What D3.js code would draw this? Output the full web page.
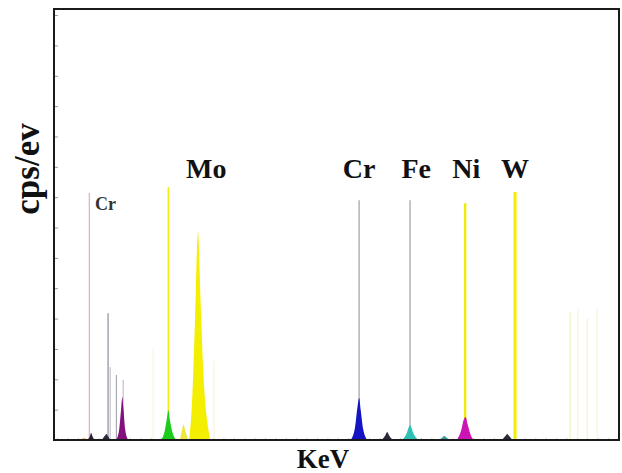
<!DOCTYPE html>
<html>
<head>
<meta charset="utf-8">
<script src="https://cdn.jsdelivr.net/npm/d3@7"></script>
<style>
  body { margin: 0; background: #fff; }
  svg { display: block; }
</style>
</head>
<body>
<div id="chart"></div>
<script>
"use strict";

// thin line markers (keV position, counts at top)
var markerNames = ["C", "Cr L", "Cr L2", "Fe L", "Ni L", "Si", "Cr K", "Fe K", "Ni K", "W L",
  "W Lb1", "W Lb2", "W Lb3", "W Lb4", "Mo fa", "Mo fb"];
var markerKeV = [0.22, 0.58, 0.62, 0.74, 0.87, 1.74, 5.41, 6.39, 7.45, 8.41,
  9.47, 9.62, 9.80, 9.99, 1.45, 2.62];
var markerCounts = [8.14, 4.18, 2.4, 2.14, 1.98, 8.33, 7.9, 7.9, 7.8, 8.17,
  4.2, 4.3, 4.0, 4.3, 3.0, 2.6];

// filled peaks, profile points [keV, counts]
var peakNames = ["O", "C b", "Cr Lb", "Ni L", "Si K", "Mo b", "Mo L", "Cr K", "Cr Kb", "Fe K", "Fe Kb", "Ni K", "Ni Kb"];
var peakProfiles = [
  [[0.06, 0], [0.12, 0.08], [0.18, 0]],
  [[0.19, 0], [0.23, 0.12], [0.255, 0.24], [0.28, 0.12], [0.32, 0]],
  [[0.46, 0], [0.51, 0.12], [0.55, 0.2], [0.58, 0.12], [0.62, 0]],
  [[0.73, 0], [0.79, 0.3], [0.83, 1.0], [0.855, 1.42], [0.875, 1.05], [0.91, 0.35], [0.97, 0]],
  [[1.60, 0], [1.67, 0.3], [1.72, 0.8], [1.74, 0.99], [1.77, 0.65], [1.82, 0.25], [1.89, 0]],
  [[1.96, 0], [2.0, 0.3], [2.03, 0.5], [2.07, 0.3], [2.12, 0]],
  [[2.14, 0], [2.20, 1.4], [2.25, 3.8], [2.31, 6.85], [2.36, 4.6], [2.42, 2.0], [2.49, 0.6], [2.55, 0]],
  [[5.25, 0], [5.33, 0.4], [5.38, 1.1], [5.41, 1.38], [5.44, 1.0], [5.49, 0.35], [5.57, 0]],
  [[5.84, 0], [5.91, 0.14], [5.95, 0.26], [5.99, 0.14], [6.06, 0]],
  [[6.24, 0], [6.32, 0.2], [6.39, 0.49], [6.46, 0.2], [6.55, 0]],
  [[6.95, 0], [7.01, 0.08], [7.05, 0.13], [7.09, 0.08], [7.15, 0]],
  [[7.29, 0], [7.37, 0.3], [7.43, 0.7], [7.46, 0.76], [7.5, 0.5], [7.55, 0.2], [7.61, 0]],
  [[8.16, 0], [8.22, 0.12], [8.26, 0.2], [8.30, 0.12], [8.36, 0]]
];

// element labels
var labelNames = ["Cr", "Mo", "Cr", "Fe", "Ni", "W"];
var labelKeV = [0.33, 2.47, 5.41, 6.51, 7.47, 8.41];

var xDomain = [-0.46, 10.41],
  yDomain = [0, 14.2];

var width = 622,
  height = 473,
  margin = { top: 9, right: 3, bottom: 33, left: 54 };

var markerStyle = {
  "C": ["#e9a8bc", 1.2, 1],
  "Cr L": ["#8d8d9a", 1.2, 1],
  "Cr L2": ["#b8b8c0", 1, 1],
  "Fe L": ["#9a9aa4", 1, 1],
  "Ni L": ["#c9a8c4", 1, 1],
  "Si": ["#f2ee10", 1.6, 1],
  "Cr K": ["#a0a0a0", 1.2, 1],
  "Fe K": ["#a0a0a0", 1.2, 1],
  "Ni K": ["#eeea10", 2.4, 1],
  "W L": ["#f2ee00", 3, 1],
  "W Lb1": ["#f4f0b0", 1.5, 0.7],
  "W Lb2": ["#f6f2c0", 1.5, 0.6],
  "W Lb3": ["#f4f0b0", 1.5, 0.6],
  "W Lb4": ["#f6f2c0", 1.5, 0.6],
  "Mo fa": ["#f8f5cc", 1.5, 0.6],
  "Mo fb": ["#f8f5cc", 1.5, 0.6]
};

var peakColor = d3.scaleOrdinal()
  .domain(peakNames)
  .range(["#f5c878", "#2a2030", "#2a2a40", "#84107e", "#1ccc1c", "#eee640", "#f4ee00",
    "#1414c4", "#2a2a3a", "#2ec2b4", "#3a9a9a", "#cc14b4", "#2a2a3a"]);

var svg = d3.select("#chart").append("svg")
  .attr("width", width)
  .attr("height", height);

var x = d3.scaleLinear().domain(xDomain).range([margin.left, width - margin.right]),
  y = d3.scaleLinear().domain(yDomain).range([height - margin.bottom, margin.top]);

// axis ticks (no labels)
svg.append("g")
  .attr("transform", "translate(" + margin.left + ",0)")
  .call(d3.axisLeft(y).ticks(14).tickSize(-4).tickFormat(""))
  .call((g) => g.select(".domain").remove())
  .selectAll("line")
  .attr("stroke", "#999");

svg.append("g")
  .attr("transform", "translate(0," + (height - margin.bottom) + ")")
  .call(d3.axisBottom(x).ticks(40).tickSize(-2).tickFormat(""))
  .call((g) => g.select(".domain").remove())
  .selectAll("line")
  .attr("stroke", "#ccc");

// marker lines
svg.append("g")
  .selectAll("line")
  .data(markerNames.map((name, i) => ({ name: name, keV: markerKeV[i], counts: markerCounts[i] })))
  .join("line")
  .attr("x1", (d) => x(d.keV))
  .attr("x2", (d) => x(d.keV))
  .attr("y1", y(0))
  .attr("y2", (d) => y(d.counts))
  .attr("stroke", (d) => markerStyle[d.name][0])
  .attr("stroke-width", (d) => markerStyle[d.name][1])
  .attr("opacity", (d) => markerStyle[d.name][2]);

// peaks
var area = d3.area()
  .x((d) => x(d[0]))
  .y0(y(0))
  .y1((d) => y(d[1]))
  .curve(d3.curveMonotoneX);

svg.append("g")
  .selectAll("path")
  .data(peakNames.map((name, i) => ({ name: name, values: peakProfiles[i] })))
  .join("path")
  .attr("d", (d) => area(d.values))
  .attr("fill", (d) => peakColor(d.name));

// labels
svg.append("g")
  .selectAll("text")
  .data(labelNames.map((name, i) => ({ name: name, keV: labelKeV[i], small: i === 0 })))
  .join("text")
  .attr("x", (d) => x(d.keV))
  .attr("y", (d) => (d.small ? 210 : 178))
  .attr("text-anchor", (d) => (d.small ? "start" : "middle"))
  .attr("font-family", "Liberation Serif, serif")
  .attr("font-weight", "bold")
  .attr("font-size", (d) => (d.small ? 18 : 28))
  .attr("fill", (d) => (d.small ? "#333" : "#111"))
  .text((d) => d.name);

// frame
svg.append("rect")
  .attr("x", margin.left)
  .attr("y", margin.top)
  .attr("width", width - margin.left - margin.right)
  .attr("height", height - margin.top - margin.bottom)
  .attr("fill", "none")
  .attr("stroke", "#1a1a1a")
  .attr("stroke-width", 2);

// axis titles
svg.append("text")
  .attr("transform", "translate(39,169) rotate(-90)")
  .attr("text-anchor", "middle")
  .attr("font-family", "Liberation Serif, serif")
  .attr("font-weight", "bold")
  .attr("font-size", 35)
  .attr("fill", "#111")
  .text("cps/ev");

svg.append("text")
  .attr("x", 323)
  .attr("y", 468)
  .attr("text-anchor", "middle")
  .attr("font-family", "Liberation Serif, serif")
  .attr("font-weight", "bold")
  .attr("font-size", 27)
  .attr("fill", "#111")
  .text("KeV");
</script>
</body>
</html>
